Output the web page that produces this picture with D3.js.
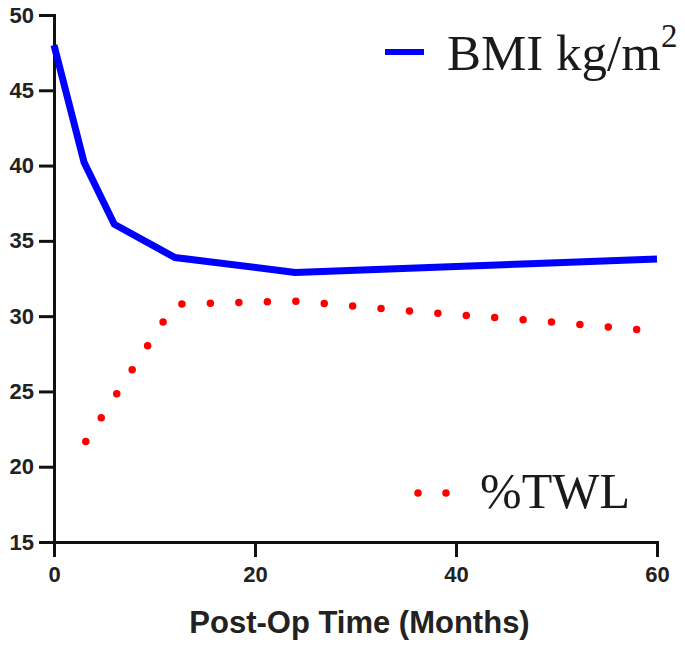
<!DOCTYPE html>
<html lang="en">
<head>
    <meta charset="UTF-8">
    <title>BMI and %TWL over time</title>
    <script src="https://d3js.org/d3.v7.min.js"></script>
    <style>
        body { margin: 0; background: #fff; }
        .tick text { font-family: "Liberation Sans", Arial, sans-serif; font-weight: bold; fill: #222; }
        .legend { font-family: "Liberation Serif", "Times New Roman", serif; fill: #1a1a1a; }
    </style>
</head>
<body>
    <svg id="chart" width="685" height="646"></svg>
    <script>
        // data
        const months = [0, 3, 6, 12, 24, 36, 48, 60];
        const bmi = [48.0, 40.2, 36.1, 33.9, 32.9, 33.2, 33.5, 33.8];
        const twlMonths = [3, 12, 24, 36, 48, 60];
        const twl = [21.5, 30.8, 31.0, 30.3, 29.7, 29.0];
        const xTicks = [0, 20, 40, 60];
        const yTicks = [15, 20, 25, 30, 35, 40, 45, 50];

        const svg = d3.select('#chart');
        const margin = { left: 54, top: 15, right: 28, bottom: 104 };
        const W = 685, H = 646;

        const x = d3.scaleLinear().domain([0, 60]).range([margin.left, W - margin.right]);
        const y = d3.scaleLinear().domain([15, 50]).range([H - margin.bottom, margin.top]);

        // axes
        const yAxis = svg.append('g')
            .attr('transform', `translate(${margin.left},0)`)
            .call(d3.axisLeft(y).tickValues(yTicks).tickSize(15).tickPadding(5));
        const xAxis = svg.append('g')
            .attr('transform', `translate(0,${H - margin.bottom})`)
            .call(d3.axisBottom(x).tickValues(xTicks).tickSize(15).tickPadding(9));

        [xAxis, yAxis].forEach(g => {
            g.selectAll('path, line').attr('stroke', '#111').attr('stroke-width', 3);
            g.selectAll('text').attr('font-size', 22);
        });

        svg.append('text')
            .attr('x', (x(0) + x(60)) / 2 + 4)
            .attr('y', 633)
            .attr('text-anchor', 'middle')
            .attr('font-family', '"Liberation Sans", Arial, sans-serif')
            .attr('font-weight', 'bold')
            .attr('font-size', 31)
            .attr('fill', '#222')
            .text('Post-Op Time (Months)');

        // series
        const bmiLine = d3.line().x((d, i) => x(months[i])).y(d => y(d));
        svg.append('path')
            .datum(bmi)
            .attr('d', bmiLine)
            .attr('fill', 'none')
            .attr('stroke', '#0000ff')
            .attr('stroke-width', 7)
            .attr('stroke-linejoin', 'round');

        const twlLine = d3.line().x((d, i) => x(twlMonths[i])).y(d => y(d));
        svg.append('path')
            .datum(twl)
            .attr('d', twlLine)
            .attr('fill', 'none')
            .attr('stroke', '#ff0000')
            .attr('stroke-width', 7.5)
            .attr('stroke-linecap', 'round')
            .attr('stroke-dasharray', '0 28.5')
            .attr('stroke-dashoffset', -3);

        // legend
        svg.append('line')
            .attr('x1', 385).attr('x2', 424).attr('y1', 52).attr('y2', 52)
            .attr('stroke', '#0000ff').attr('stroke-width', 6);
        const bmiText = svg.append('text')
            .attr('class', 'legend')
            .attr('x', 447).attr('y', 70)
            .attr('font-size', 51);
        bmiText.append('tspan').text('BMI kg/m');
        bmiText.append('tspan').attr('font-size', 33).attr('dy', -23).text('2');

        svg.append('line')
            .attr('x1', 418).attr('x2', 447).attr('y1', 493).attr('y2', 493)
            .attr('stroke', '#ff0000').attr('stroke-width', 7.5)
            .attr('stroke-linecap', 'round')
            .attr('stroke-dasharray', '0 28');
        svg.append('text')
            .attr('class', 'legend')
            .attr('x', 480).attr('y', 508)
            .attr('font-size', 50)
            .text('%TWL');
    </script>
</body>
</html>
